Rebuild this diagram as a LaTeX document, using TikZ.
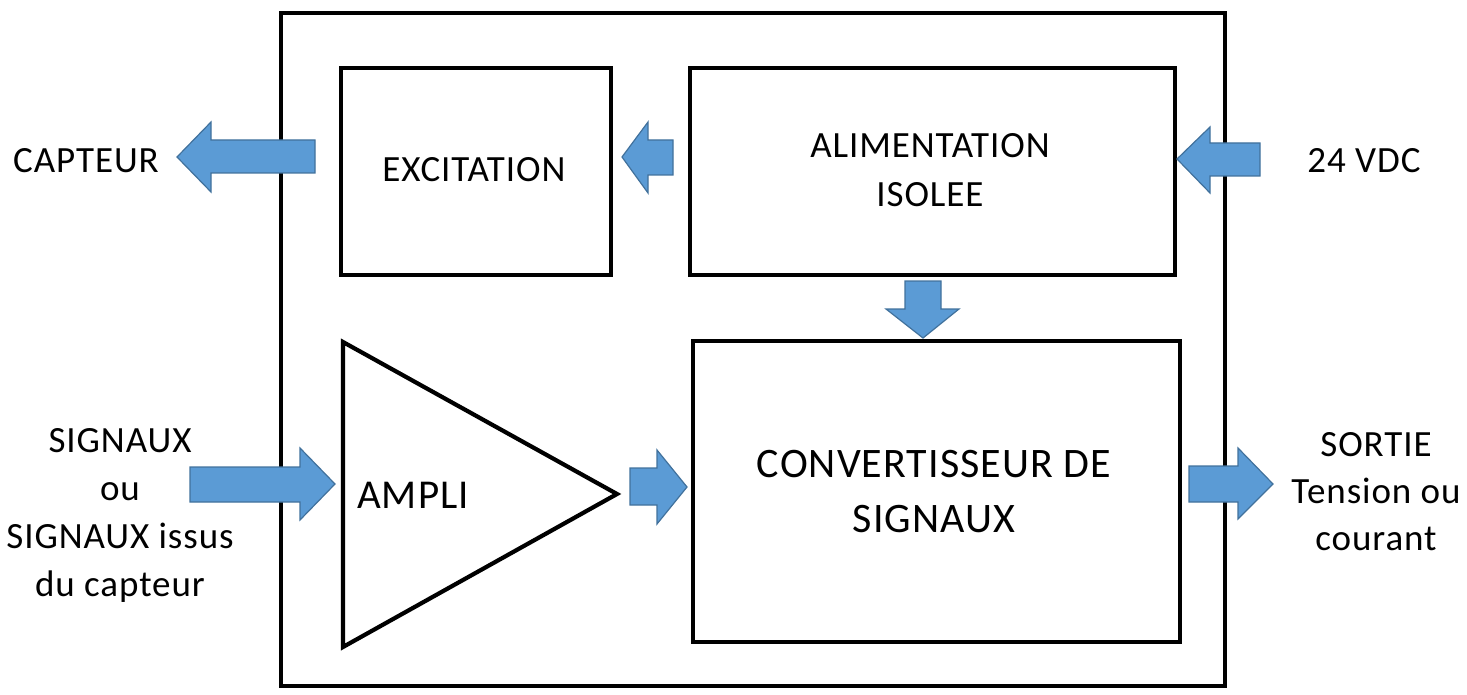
\documentclass[tikz,border=0pt]{standalone}
\usepackage{fontspec}
\setmainfont{Carlito}[LetterSpace=2.5]
\definecolor{arrfill}{HTML}{5B9BD5}
\definecolor{arrdraw}{HTML}{41719C}
\begin{document}
\begin{tikzpicture}[x=1pt,y=-1pt,
  boxline/.style={draw=black,line width=4.2pt},
  blockarr/.style={fill=arrfill,draw=arrdraw,line width=1.2pt,line join=miter},
  lbl/.style={font=\fontsize{37}{48}\selectfont,align=center,inner sep=0pt,anchor=base},
]
\useasboundingbox (0,0) rectangle (1467,695);
% frames
\draw[boxline] (281,13) rectangle (1225,686);
\node[boxline,minimum width=270pt,minimum height=207pt,inner sep=0pt,anchor=north west] (exc) at (339,66) {};
\node[boxline,minimum width=485pt,minimum height=207pt,inner sep=0pt,anchor=north west] (alim) at (688,66) {};
\node[boxline,minimum width=487pt,minimum height=301pt,inner sep=0pt,anchor=north west] (conv) at (691,339) {};
\draw[boxline,line join=miter] (343,342) -- (617,494) -- (343,647) -- cycle;
% texts (base anchor = baseline of the last line)
\node[lbl] (tcapt) at (86,173) {CAPTEUR};
\node[lbl] (texc) at (474,182) {EXCITATION};
\node[lbl,font=\fontsize{37}{49}\selectfont] (talim) at (930,207) {ALIMENTATION\\ISOLEE};
\node[lbl] (tvdc) at (1364,173) {24 VDC};
\node[lbl,font=\fontsize{37}{47.7}\selectfont] (tsig) at (120,596) {SIGNAUX\\ou\\SIGNAUX issus\\du capteur};
\node[lbl,font=\fontsize{41}{50}\selectfont,anchor=base west] (tampli) at (357,508) {AMPLI};
\node[lbl,font=\fontsize{42}{55}\selectfont] (tconv) at (934,532) {CONVERTISSEUR DE\\SIGNAUX};
\node[lbl,font=\fontsize{37}{47}\selectfont] (tsort) at (1376,550) {SORTIE\\Tension ou\\courant};
% block arrows
\draw[blockarr] (177,157) -- (211,122) -- (211,140) -- (315,140) -- (315,173) -- (211,173) -- (211,192) -- cycle;
\draw[blockarr] (622,157) -- (648,122) -- (648,140) -- (673,140) -- (673,175) -- (648,175) -- (648,193) -- cycle;
\draw[blockarr] (1177,159) -- (1210,127) -- (1210,143) -- (1260,143) -- (1260,176) -- (1210,176) -- (1210,193) -- cycle;
\draw[blockarr] (923,338) -- (886,309) -- (905,309) -- (905,281) -- (941,281) -- (941,309) -- (959,309) -- cycle;
\draw[blockarr] (335,484) -- (300,448) -- (300,467) -- (190,467) -- (190,502) -- (300,502) -- (300,520) -- cycle;
\draw[blockarr] (687,487) -- (657,450) -- (657,468) -- (630,468) -- (630,505) -- (657,505) -- (657,524) -- cycle;
\draw[blockarr] (1273,484) -- (1238,448) -- (1238,466) -- (1189,466) -- (1189,502) -- (1238,502) -- (1238,519) -- cycle;
\end{tikzpicture}
\end{document}
